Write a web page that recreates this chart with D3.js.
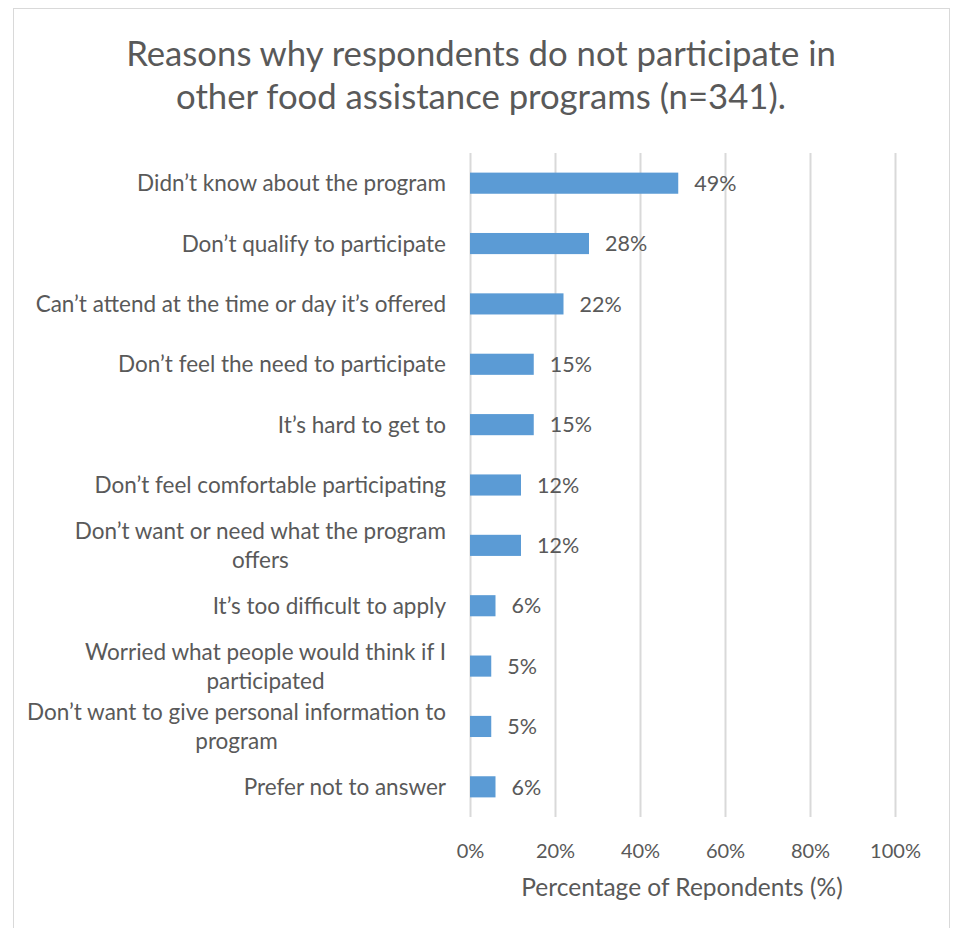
<!DOCTYPE html>
<html>
<head>
<meta charset="utf-8">
<script src="https://cdn.jsdelivr.net/npm/d3@7"></script>
<style>
  html, body { margin: 0; padding: 0; background: #fff; }
  svg { display: block; }
  text { font-family: Lato, "Open Sans", sans-serif; fill: #595959; }
</style>
</head>
<body>
<svg id="chart" width="954" height="928"></svg>
<script>
// Reasons for not taking part in other food assistance programs
const categories = [
  "Didn’t know about the program",
  "Don’t qualify to participate",
  "Can’t attend at the time or day it’s offered",
  "Don’t feel the need to participate",
  "It’s hard to get to",
  "Don’t feel comfortable participating",
  "Don’t want or need what the program\noffers",
  "It’s too difficult to apply",
  "Worried what people would think if I\nparticipated",
  "Don’t want to give personal information to\nprogram",
  "Prefer not to answer"
];
const values = [49, 28, 22, 15, 15, 12, 12, 6, 5, 5, 6];
const xTicks = [0, 20, 40, 60, 80, 100];
const titleLines = [
  "Reasons why respondents do not participate in",
  "other food assistance programs (n=341)."
];
const xAxisTitle = "Percentage of Repondents (%)";

const svg = d3.select("#chart");

// outer chart frame
svg.append("rect")
  .attr("x", 13.5).attr("y", 8.5)
  .attr("width", 936).attr("height", 930)
  .attr("fill", "#fff").attr("stroke", "#D9D9D9").attr("stroke-width", 1);

const plot = { left: 470, right: 895, top: 153, bottom: 817 };

const x = d3.scaleLinear().domain([0, 100]).range([plot.left, plot.right]);
const y = d3.scaleBand().domain(categories)
  .range([plot.top, plot.bottom]).paddingInner(0.65).paddingOuter(0.325);

// title
svg.append("g").selectAll("text").data(titleLines).join("text")
  .attr("x", 481).attr("y", (d, i) => 66 + i * 43)
  .attr("text-anchor", "middle")
  .style("font-size", "34.7px")
  .text(d => d);

// vertical gridlines and tick labels
const xAxis = d3.axisBottom(x).tickValues(xTicks).tickFormat(d => d + "%")
  .tickSize(-(plot.bottom - plot.top)).tickPadding(27);
const gx = svg.append("g")
  .attr("transform", `translate(0,${plot.bottom})`)
  .call(xAxis);
gx.select(".domain").remove();
gx.selectAll(".tick line").attr("stroke", "#D9D9D9").attr("stroke-width", 2);
gx.selectAll(".tick text")
  .style("font-size", "20px").attr("fill", "#595959");

// bars
svg.append("g").selectAll("rect").data(values).join("rect")
  .attr("x", x(0))
  .attr("y", (d, i) => y(categories[i]))
  .attr("width", d => x(d) - x(0))
  .attr("height", y.bandwidth())
  .attr("fill", "#5B9BD5");

// value labels
svg.append("g").selectAll("text").data(values).join("text")
  .attr("x", d => x(d) + 16)
  .attr("y", (d, i) => y(categories[i]) + y.bandwidth() / 2)
  .attr("dy", "0.36em")
  .style("font-size", "21.5px")
  .text(d => d + "%");

// category labels: wrapped lines centred within a right-aligned block
const labelRight = 446;
const lineH = 29;
const lg = svg.append("g");
categories.forEach((c, i) => {
  const lines = c.split("\n");
  const cy = y(c) + y.bandwidth() / 2;
  const t = lg.append("text").style("font-size", "22.5px");
  const spans = lines.map((ln, j) =>
    t.append("tspan").attr("y", cy + (j - (lines.length - 1) / 2) * lineH)
      .attr("dy", "0.36em").text(ln));
  const maxW = d3.max(spans, s => s.node().getComputedTextLength());
  spans.forEach(s => {
    s.attr("x", labelRight - maxW / 2).attr("text-anchor", "middle");
  });
});

// axis title
svg.append("text")
  .attr("x", 682).attr("y", 896)
  .attr("text-anchor", "middle")
  .style("font-size", "24.5px")
  .text(xAxisTitle);
</script>
</body>
</html>
